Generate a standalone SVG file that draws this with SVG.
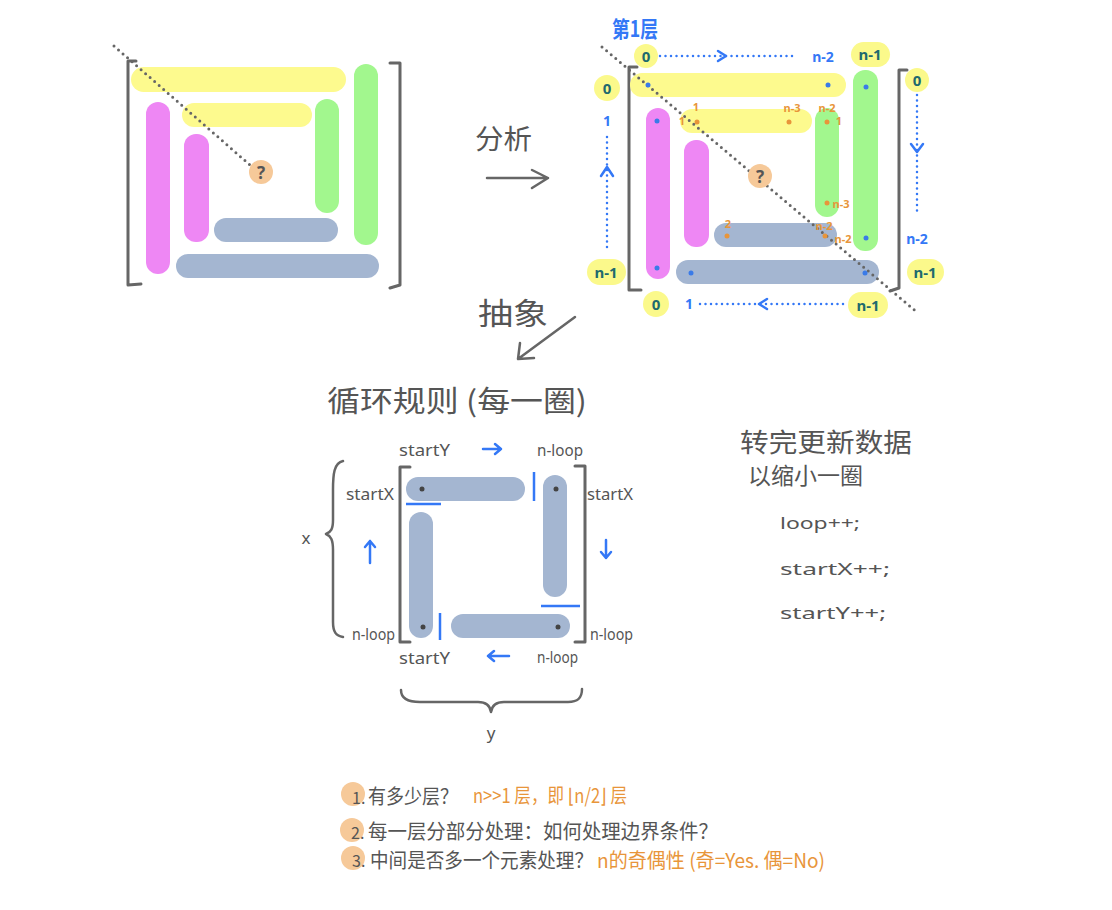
<svg xmlns="http://www.w3.org/2000/svg" width="1112" height="910" viewBox="0 0 1112 910">
<style>
.hw{font-family:"Noto Sans CJK SC","Noto Sans",sans-serif;fill:#555;dominant-baseline:central}
.bk{fill:none;stroke:#666;stroke-width:3;stroke-linecap:round;stroke-linejoin:round}
.dot{fill:none;stroke:#666;stroke-width:3;stroke-linecap:round;stroke-dasharray:0 6}
.bdot{fill:none;stroke:#3478f6;stroke-width:2.5;stroke-linecap:round;stroke-dasharray:0 5.5}
.y{fill:#fdfa8e}.g{fill:#a2f78e}.m{fill:#ee87f4}.b{fill:#a4b6d1}.p{fill:#f6c999}
.hl{fill:#fbf98b}
.idx{font-family:"Noto Sans",sans-serif;fill:#1f6a6e;font-size:15px;font-weight:bold;text-anchor:middle;dominant-baseline:central}
.bl{font-family:"Noto Sans",sans-serif;fill:#3478f6;font-size:14px;font-weight:bold;text-anchor:middle;dominant-baseline:central}
.or{font-family:"Noto Sans",sans-serif;fill:#e8953a;font-size:11px;font-weight:bold;text-anchor:middle;dominant-baseline:central}
.bdt{fill:#3a7be8}.odt{fill:#e8953a}.kdt{fill:#444}
.arr{fill:none;stroke:#666;stroke-width:2.5;stroke-linecap:round;stroke-linejoin:round}
.barr{fill:none;stroke:#3478f6;stroke-width:2.5;stroke-linecap:round;stroke-linejoin:round}
.sep{stroke:#3478f6;stroke-width:2.5}
.lbl{font-family:"Noto Sans",sans-serif;fill:#555;font-size:17px;dominant-baseline:central}
.q{font-family:"Noto Sans",sans-serif;fill:#555;font-size:17px;font-weight:bold;text-anchor:middle;dominant-baseline:central}
.orT{font-family:"Noto Sans CJK SC","Noto Sans",sans-serif;fill:#e8953a;dominant-baseline:central}
</style>

<!-- Left diagram -->
<g id="left-matrix">
  <path class="bk" d="M136,61 L128,61 L128,285 L141,284"/>
  <path class="bk" d="M390,63 L400,63 L400,285 L390,288"/>
  <rect class="y" x="131" y="67" width="215" height="25" rx="12.5"/>
  <rect class="y" x="182" y="103" width="130" height="24" rx="12"/>
  <rect class="g" x="354" y="64" width="24" height="181" rx="12"/>
  <rect class="g" x="315" y="99" width="24" height="114" rx="12"/>
  <rect class="m" x="146" y="102" width="24" height="172" rx="12"/>
  <rect class="m" x="184" y="134" width="25" height="108" rx="12"/>
  <rect class="b" x="214" y="218" width="124" height="24" rx="12"/>
  <rect class="b" x="176" y="254" width="203" height="24" rx="12"/>
  <line class="dot" x1="114" y1="46" x2="250" y2="165"/>
  <circle class="p" cx="261" cy="172" r="12"/>
  <text class="q" x="261" y="172">?</text>
</g>

<!-- Right diagram -->
<g id="right-matrix">
  <text x="612" y="27" font-family="Noto Sans CJK SC, sans-serif" font-size="22" font-weight="bold" fill="#3478f6" dominant-baseline="central" textLength="46" lengthAdjust="spacingAndGlyphs">第1层</text>
  <path class="bk" d="M637,67 L629,67 L629,290 L641,290"/>
  <path class="bk" d="M907,70 L899,70 L899,288 L890,291"/>
  <rect class="y" x="630" y="73" width="216" height="24" rx="12"/>
  <rect class="y" x="680" y="109" width="132" height="24" rx="12"/>
  <rect class="g" x="853" y="70" width="25" height="181" rx="12"/>
  <rect class="g" x="815" y="108" width="24" height="109" rx="12"/>
  <rect class="m" x="646" y="108" width="24" height="171" rx="12"/>
  <rect class="m" x="684" y="140" width="25" height="107" rx="12"/>
  <rect class="b" x="714" y="223" width="123" height="24" rx="12"/>
  <rect class="b" x="676" y="260" width="203" height="24" rx="12"/>
  <line class="dot" x1="602" y1="47" x2="918" y2="313"/>
  <circle class="p" cx="760" cy="176" r="12"/>
  <text class="q" x="760" y="176">?</text>
  <!-- blue dots -->
  <circle class="bdt" cx="648" cy="85" r="2.5"/>
  <circle class="bdt" cx="828" cy="85" r="2.5"/>
  <circle class="bdt" cx="866" cy="87" r="2.5"/>
  <circle class="bdt" cx="866" cy="238" r="2.5"/>
  <circle class="bdt" cx="657" cy="121" r="2.5"/>
  <circle class="bdt" cx="657" cy="268" r="2.5"/>
  <circle class="bdt" cx="691" cy="273" r="2.5"/>
  <circle class="bdt" cx="865" cy="273" r="2.5"/>
  <!-- orange dots -->
  <circle class="odt" cx="697" cy="122" r="2.5"/>
  <circle class="odt" cx="789" cy="122" r="2.5"/>
  <circle class="odt" cx="827" cy="122" r="2.5"/>
  <circle class="odt" cx="827" cy="203" r="2.5"/>
  <circle class="odt" cx="727" cy="236" r="2.5"/>
  <circle class="odt" cx="825" cy="236" r="2.5"/>
  <!-- orange labels -->
  <text class="or" x="696" y="106">1</text>
  <text class="or" x="682" y="120">1</text>
  <text class="or" x="792" y="107">n-3</text>
  <text class="or" x="827" y="107">n-2</text>
  <text class="or" x="839" y="120">1</text>
  <text class="or" x="841" y="203">n-3</text>
  <text class="or" x="728" y="223">2</text>
  <text class="or" x="824" y="225">n-2</text>
  <text class="or" x="843" y="238">n-2</text>
  <!-- index highlights -->
  <circle class="hl" cx="646" cy="56" r="12"/>
  <text class="idx" x="646" y="56">0</text>
  <text class="bl" x="823" y="56">n-2</text>
  <rect class="hl" x="851" y="42" width="39" height="25" rx="12.5"/>
  <text class="idx" x="870" y="54">n-1</text>

  <circle class="hl" cx="607" cy="88" r="13"/>
  <text class="idx" x="607" y="88">0</text>
  <text class="bl" x="607" y="120">1</text>
  <rect class="hl" x="587" y="259" width="39" height="26" rx="13"/>
  <text class="idx" x="606" y="272">n-1</text>

  <circle class="hl" cx="917" cy="80" r="12"/>
  <text class="idx" x="917" y="80">0</text>
  <text class="bl" x="917" y="238">n-2</text>
  <rect class="hl" x="907" y="259" width="37" height="26" rx="13"/>
  <text class="idx" x="925" y="272">n-1</text>

  <circle class="hl" cx="656" cy="304" r="13"/>
  <text class="idx" x="656" y="304">0</text>
  <text class="bl" x="689" y="303">1</text>
  <rect class="hl" x="848" y="292" width="40" height="26" rx="13"/>
  <text class="idx" x="868" y="305">n-1</text>
</g>

<!-- Middle diagram -->
<g id="loop-rule">
  <text class="hw" x="327" y="399" font-size="29" textLength="260" lengthAdjust="spacingAndGlyphs">循环规则 (每一圈)</text>
  <path class="bk" d="M410,467 L400,467 L400,642 L410,642"/>
  <path class="bk" d="M575,466 L585,466 L585,642 L575,642"/>
  <rect class="b" x="406" y="477" width="119" height="24" rx="12"/>
  <rect class="b" x="543" y="475" width="24" height="122" rx="12"/>
  <rect class="b" x="409" y="512" width="24" height="126" rx="12"/>
  <rect class="b" x="451" y="614" width="119" height="24" rx="12"/>
  <circle class="kdt" cx="422" cy="489" r="2.5"/>
  <circle class="kdt" cx="556" cy="489" r="2.5"/>
  <circle class="kdt" cx="423" cy="627" r="2.5"/>
  <circle class="kdt" cx="558" cy="627" r="2.5"/>
  <line class="sep" x1="406" y1="504" x2="441" y2="504"/>
  <line class="sep" x1="534" y1="472" x2="534" y2="501"/>
  <line class="sep" x1="541" y1="606" x2="580" y2="606"/>
  <line class="sep" x1="440" y1="613" x2="440" y2="640"/>
  <text class="lbl" x="399" y="449" textLength="51" lengthAdjust="spacingAndGlyphs">startY</text>
  <text class="lbl" x="537" y="449" textLength="46" lengthAdjust="spacingAndGlyphs">n-loop</text>
  <text class="lbl" x="346" y="493" textLength="48" lengthAdjust="spacingAndGlyphs">startX</text>
  <text class="lbl" x="587" y="493" textLength="46" lengthAdjust="spacingAndGlyphs">startX</text>
  <text class="lbl" x="352" y="633" textLength="43" lengthAdjust="spacingAndGlyphs">n-loop</text>
  <text class="lbl" x="590" y="633" textLength="43" lengthAdjust="spacingAndGlyphs">n-loop</text>
  <text class="lbl" x="399" y="657" textLength="51" lengthAdjust="spacingAndGlyphs">startY</text>
  <text class="lbl" x="537" y="656" textLength="41" lengthAdjust="spacingAndGlyphs">n-loop</text>
  <path class="arr" d="M343,461 C334,463 333,474 333,490 L333,520 C333,529 331,532 326,534 C331,536 333,540 333,550 L333,622 C333,632 336,636 343,637"/>
  <text class="lbl" x="306" y="537" text-anchor="middle" font-size="20">x</text>
  <path class="arr" d="M401,690 C401,699 408,702 420,702 L478,702 C486,702 490,705 491,712 C492,705 496,702 504,702 L568,702 C578,702 582,698 582,689"/>
  <text class="lbl" x="491" y="732" text-anchor="middle" font-size="24">y</text>
</g>

<!-- Update notes -->
<g id="update-notes">
  <text class="hw" x="740" y="440" font-size="26" textLength="172" lengthAdjust="spacingAndGlyphs">转完更新数据</text>
  <text class="hw" x="748" y="474" font-size="23" textLength="115" lengthAdjust="spacingAndGlyphs">以缩小一圈</text>
  <text class="lbl" x="780" y="522" font-size="24" textLength="80" lengthAdjust="spacingAndGlyphs">loop++;</text>
  <text class="lbl" x="780" y="568" font-size="24" textLength="110" lengthAdjust="spacingAndGlyphs">startX++;</text>
  <text class="lbl" x="780" y="612" font-size="24" textLength="106" lengthAdjust="spacingAndGlyphs">startY++;</text>
</g>

<!-- Questions -->
<g id="questions">
  <circle class="p" cx="353" cy="794" r="12"/>
  <text class="hw" x="352" y="797" font-size="16">1.</text>
  <text class="hw" x="368" y="795" font-size="20" textLength="90" lengthAdjust="spacingAndGlyphs">有多少层？</text>
  <text class="orT" x="473" y="794" font-size="20" textLength="154" lengthAdjust="spacingAndGlyphs">n&gt;&gt;1 层，即 ⌊n/2⌋ 层</text>
  <circle class="p" cx="352" cy="830" r="12"/>
  <text class="hw" x="351" y="832" font-size="16">2.</text>
  <text class="hw" x="368" y="830" font-size="20" textLength="350" lengthAdjust="spacingAndGlyphs">每一层分部分处理：如何处理边界条件？</text>
  <circle class="p" cx="353" cy="858" r="12"/>
  <text class="hw" x="352" y="860" font-size="16">3.</text>
  <text class="hw" x="370" y="859" font-size="20" textLength="223" lengthAdjust="spacingAndGlyphs">中间是否多一个元素处理？</text>
  <text class="orT" x="597" y="859" font-size="20" textLength="228" lengthAdjust="spacingAndGlyphs">n的奇偶性 (奇=Yes. 偶=No)</text>
</g>

<!-- Connectors -->
<g id="connectors">
  <text class="hw" x="475" y="137" font-size="27" textLength="57" lengthAdjust="spacingAndGlyphs">分析</text>
  <path class="arr" d="M487,178 L548,178 M532,170 L548,178 L532,188"/>
  <text class="hw" x="478" y="311" font-size="30" textLength="70" lengthAdjust="spacingAndGlyphs">抽象</text>
  <path class="arr" d="M575,317 L518,359 M520,343 L518,359 L534,358"/>
  <!-- index traversal arrows -->
  <line class="bdot" x1="660" y1="56" x2="793" y2="56"/>
  <polyline class="barr" points="718,51 726,56 718,61"/>
  <line class="bdot" x1="607" y1="137" x2="607" y2="252"/>
  <polyline class="barr" points="601,176 607,167 613,176"/>
  <line class="bdot" x1="917" y1="95" x2="917" y2="215"/>
  <polyline class="barr" points="911,144 917,152 923,144"/>
  <line class="bdot" x1="700" y1="304" x2="847" y2="304"/>
  <polyline class="barr" points="767,299 759,304 767,309"/>
  <!-- loop direction arrows -->
  <path class="barr" d="M483,449 L501,449 M495,444 L501,449 L495,454"/>
  <path class="barr" d="M509,656 L488,656 M494,651 L488,656 L494,661"/>
  <path class="barr" d="M370,563 L370,541 M365,547 L370,541 L375,547"/>
  <path class="barr" d="M606,540 L606,558 M601,552 L606,558 L611,552"/>
</g>
</svg>
